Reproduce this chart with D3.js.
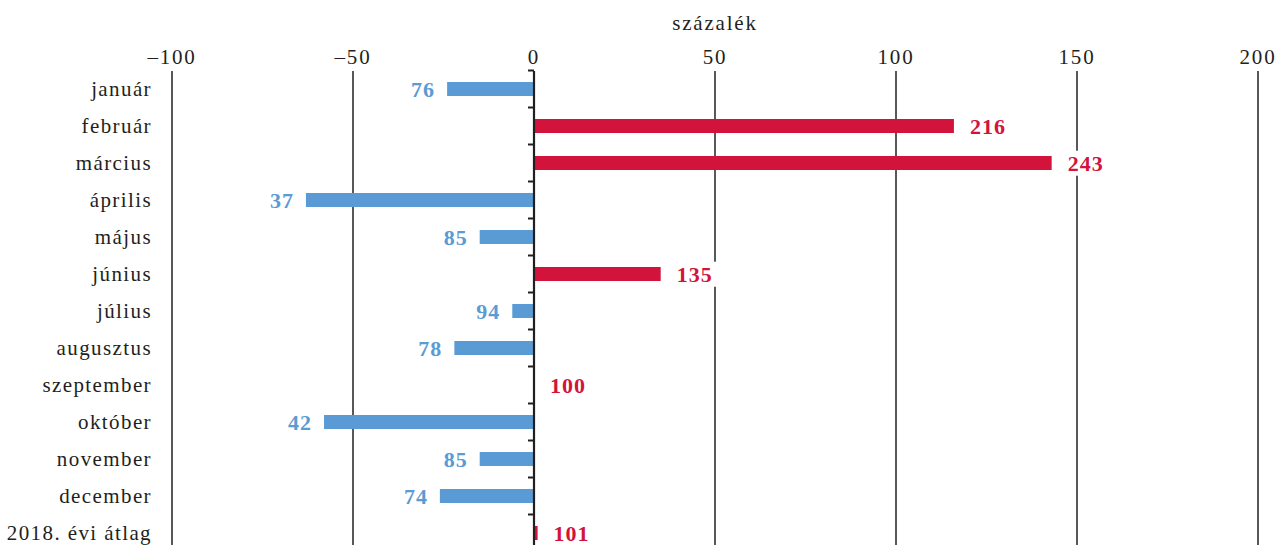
<!DOCTYPE html>
<html>
<head>
<meta charset="utf-8">
<script src="https://cdn.jsdelivr.net/npm/d3@7"></script>
<style>
  body { margin: 0; background: #fff; }
  svg text { font-family: "Liberation Serif", "DejaVu Serif", serif; }
</style>
</head>
<body>
<svg width="1276" height="545"></svg>
<script>
// data
const months = ["január", "február", "március", "április", "május", "június", "július",
  "augusztus", "szeptember", "október", "november", "december", "2018. évi átlag"];
const values = [76, 216, 243, 37, 85, 135, 94, 78, 100, 42, 85, 74, 101];
const xTicks = [-100, -50, 0, 50, 100, 150, 200];

const svg = d3.select("svg");
const height = +svg.attr("height");

const blue = "#5b9bd5";
const red = "#d2143d";
const ink = "#231f20";

const x = d3.scaleLinear().domain([-100, 200]).range([172, 1258]);
const y = d3.scaleBand().domain(months).range([70.5, 70.5 + 37 * months.length]);
const barH = 14;

const data = months.map((m, i) => ({ name: m, value: values[i], diff: values[i] - 100 }));

// axis title
svg.append("text")
  .attr("x", (x.range()[0] + x.range()[1]) / 2)
  .attr("y", 30)
  .attr("text-anchor", "middle")
  .attr("font-size", 21)
  .attr("letter-spacing", 1.8)
  .attr("fill", ink)
  .text("százalék");

// top axis labels
const fmt = (d) => (d < 0 ? "\u2013" + Math.abs(d) : String(d));
svg.append("g")
  .selectAll("text")
  .data(xTicks)
  .enter().append("text")
    .attr("x", (d) => x(d))
    .attr("y", 64)
    .attr("text-anchor", "middle")
    .attr("font-size", 21)
    .attr("letter-spacing", 1.8)
    .attr("fill", ink)
    .text(fmt);

// gridlines
svg.append("g")
  .selectAll("line")
  .data(xTicks.filter((d) => d !== 0))
  .enter().append("line")
    .attr("x1", (d) => x(d))
    .attr("x2", (d) => x(d))
    .attr("y1", 71)
    .attr("y2", height)
    .attr("stroke", ink)
    .attr("stroke-width", 1.5);

// bars
svg.append("g")
  .selectAll("rect")
  .data(data)
  .enter().append("rect")
    .attr("x", (d) => x(Math.min(0, d.diff)))
    .attr("y", (d) => y(d.name) + y.bandwidth() / 2 - barH / 2)
    .attr("width", (d) => Math.abs(x(d.diff) - x(0)))
    .attr("height", barH)
    .attr("fill", (d) => (d.diff < 0 ? blue : red));

// zero axis with ticks on category boundaries
const axisG = svg.append("g");
axisG.append("line")
  .attr("x1", x(0)).attr("x2", x(0))
  .attr("y1", 71).attr("y2", height)
  .attr("stroke", ink)
  .attr("stroke-width", 2.2);
axisG.selectAll("line.tick")
  .data(months)
  .enter().append("line")
    .attr("class", "tick")
    .attr("x1", x(0) - 6)
    .attr("x2", x(0))
    .attr("y1", (d) => y(d))
    .attr("y2", (d) => y(d))
    .attr("stroke", ink)
    .attr("stroke-width", 2);

// category labels
svg.append("g")
  .selectAll("text")
  .data(months)
  .enter().append("text")
    .attr("x", 152)
    .attr("y", (d) => y(d) + y.bandwidth() / 2)
    .attr("dy", "0.32em")
    .attr("text-anchor", "end")
    .attr("font-size", 21)
    .attr("letter-spacing", 1.4)
    .attr("fill", ink)
    .text((d) => d);

// value labels with white boxes
const lab = svg.append("g")
  .selectAll("g")
  .data(data)
  .enter().append("g");

lab.append("text")
  .attr("x", (d) => (d.diff < 0 ? x(d.diff) - 12 : x(Math.max(0, d.diff)) + 16))
  .attr("y", (d) => y(d.name) + y.bandwidth() / 2)
  .attr("dy", "0.35em")
  .attr("text-anchor", (d) => (d.diff < 0 ? "end" : "start"))
  .attr("font-size", 22)
  .attr("letter-spacing", 1)
  .attr("font-weight", "bold")
  .attr("fill", (d) => (d.diff < 0 ? blue : red))
  .text((d) => d.value);

lab.each(function () {
  const g = d3.select(this);
  const b = g.select("text").node().getBBox();
  g.insert("rect", "text")
    .attr("x", b.x - 4)
    .attr("y", b.y)
    .attr("width", b.width + 8)
    .attr("height", b.height)
    .attr("fill", "#fff");
});
</script>
</body>
</html>
